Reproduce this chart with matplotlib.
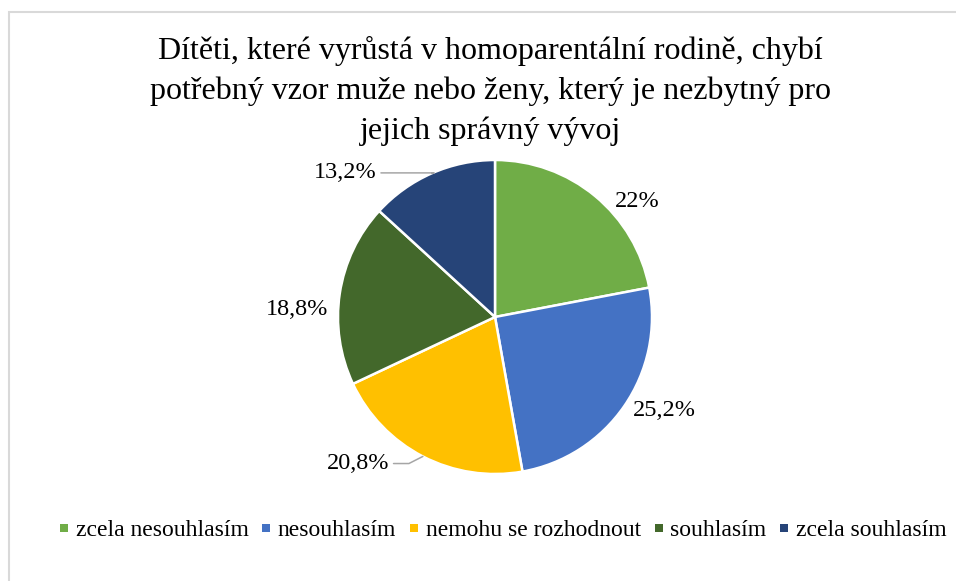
import numpy as np
import matplotlib
matplotlib.use("Agg")
import matplotlib.pyplot as plt
from matplotlib.patches import Rectangle
from matplotlib.lines import Line2D

# data
categories = ["zcela nesouhlasím", "nesouhlasím", "nemohu se rozhodnout",
              "souhlasím", "zcela souhlasím"]
values = [22.0, 25.2, 20.8, 18.8, 13.2]
value_labels = ["22%", "25,2%", "20,8%", "18,8%", "13,2%"]

colors = ["#70ad47", "#4472c4", "#ffc000", "#43682b", "#264478"]
title = ("Dítěti, které vyrůstá v homoparentální rodině, chybí\n"
         "potřebný vzor muže nebo ženy, který je nezbytný pro\n"
         "jejich správný vývoj")

# label placement (radius, angle shift in deg) and leader-line flags
label_r = [1.17, 1.23, 1.27, 1.26, 1.33]
label_dtheta = [-11, 6, -16, 6, 22]
leader = [False, False, True, False, True]
leader_angle = [0, 0, 27, 0, 10]

plt.rcParams["font.family"] = ["Liberation Serif", "DejaVu Serif"]

W, H = 956, 581
fig = plt.figure(figsize=(W / 100, H / 100), dpi=100)
fig.patch.set_facecolor("white")

# frame (top/left visible, rest cut off like the source)
fig.patches.append(Rectangle((9 / W, -0.5), 2.0, 1.5 - 12 / H,
                             transform=fig.transFigure, fill=False,
                             edgecolor="#d9d9d9", linewidth=1.5))

cx, cy, R = 495, 317, 157
ax = fig.add_axes([(cx - R) / W, (H - cy - R) / H, 2 * R / W, 2 * R / H])
ax.axis("off")

wedges, _ = ax.pie(values, colors=colors, startangle=90, counterclock=False,
                   radius=1.0, wedgeprops=dict(edgecolor="white", linewidth=1.8))
ax.set_xlim(-1, 1)
ax.set_ylim(-1, 1)
ax.set_aspect("equal")

cum = np.cumsum([0] + values)
total = sum(values)
for i, lab in enumerate(value_labels):
    mid = 90 - 360 * (cum[i] + values[i] / 2) / total
    th = np.radians(mid + label_dtheta[i])
    tx, ty = label_r[i] * np.cos(th), label_r[i] * np.sin(th)
    if leader[i]:
        ex, ey = np.cos(np.radians(mid)), np.sin(np.radians(mid))
        ax.annotate(lab, xy=(ex, ey), xytext=(tx, ty - 0.01), ha="center", va="center",
                    fontsize=17.5, color="#000000", annotation_clip=False,
                    arrowprops=dict(arrowstyle="-", color="#a6a6a6", lw=1.1,
                                    shrinkA=1, shrinkB=0,
                                    connectionstyle="angle,angleA=0,angleB=%d,rad=0"
                                    % leader_angle[i]))
    else:
        ax.text(tx, ty - 0.01, lab, ha="center", va="center", fontsize=17.5,
                color="#000000", clip_on=False)

fig.text(0.513, (H - 91) / H, title, ha="center", va="center", fontsize=23,
         linespacing=1.45, color="#000000")

handles = [Line2D([], [], linestyle="none", marker="s", markersize=5.5,
                  markerfacecolor=w.get_facecolor(), markeredgewidth=0)
           for w in wedges]
leg = fig.legend(handles, categories, loc="center", bbox_to_anchor=(0.526, (H - 530) / H),
                 ncol=5, frameon=False, fontsize=17, handlelength=0.4,
                 handletextpad=0.3, columnspacing=0.55, borderpad=0)

fig.savefig("out.png", dpi=100, facecolor="white")
